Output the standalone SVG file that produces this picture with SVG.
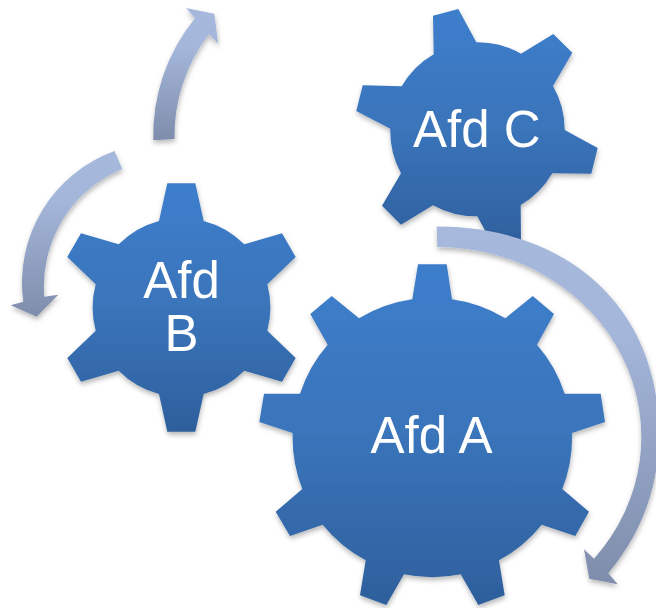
<svg xmlns="http://www.w3.org/2000/svg" width="656" height="608" viewBox="0 0 656 608">
<style>
.gear{fill:url(#gearFill);filter:url(#soft)}
.arrow{fill:url(#arrowFill);filter:url(#soft)}
text{font-family:"Liberation Sans",Arial,sans-serif;font-size:51px;fill:#fff;text-anchor:middle}
</style>
<defs>
<linearGradient id="gearFill" x1="0" y1="0" x2="0" y2="1"><stop offset="0" stop-color="#3d7ecc"/><stop offset="0.5" stop-color="#3a74ba"/><stop offset="1" stop-color="#2e5f9c"/></linearGradient>
<linearGradient id="arrowFill" x1="0" y1="0" x2="0" y2="1"><stop offset="0" stop-color="#a6b8dc"/><stop offset="0.3" stop-color="#a4b6da"/><stop offset="1" stop-color="#7e8dab"/></linearGradient>
<filter id="soft" x="-10%" y="-10%" width="120%" height="125%"><feDropShadow dx="0.5" dy="3" stdDeviation="2.5" flood-color="#000" flood-opacity="0.28"/></filter>
</defs>
<rect width="656" height="608" fill="#fff"/>
<g id="node-afd-a">
<path class="gear" d="M412.3 299.3L418 264.3H446.7L452 299.3A140 140 0 0 1 505.3 318.3L532.7 296L554 314L537 344.7A140 140 0 0 1 564.7 393.7H600.7L605 422L572 433A140 140 0 0 1 562.3 489L589 511.7L575.3 536L541.7 524.7A140 140 0 0 1 499 560.3L504.7 595.3L478.3 605L460.7 574.3A140 140 0 0 1 404 574.3L386.3 605L360 595.3L365.7 560.3A140 140 0 0 1 322.7 524.7L290 536L275.7 511.7L302.3 489A140 140 0 0 1 292.7 433L259.3 422L264 393.7H300A140 140 0 0 1 327.7 344.7L310.3 314L331.7 296L359 318.3A140 140 0 0 1 412.3 299.3Z"/>
<text x="431.5" y="453.3">Afd A</text>
</g>
<g id="node-afd-b">
<path class="gear" d="M159 221L167.3 183.3H195.3L203.7 221A89.5 89.5 0 0 1 244.3 244.3L282 233.3L295.7 257L267.3 284.3A89.5 89.5 0 0 1 267.3 330.7L295.7 358L282 381.7L244.3 370.7A89.5 89.5 0 0 1 203.7 394L195.3 431.7H167.3L159 394A89.5 89.5 0 0 1 118.7 370.7L81 381.7L67.3 358L95.7 330.7A89.5 89.5 0 0 1 95.7 284.3L67.3 257L81 233.3L118.7 244.3A89.5 89.5 0 0 1 159 221Z"/>
<text x="181.5" y="298.3">Afd</text>
<text x="181.5" y="351">B</text>
</g>
<g id="node-afd-c">
<path class="gear" d="M476.3 42.3L458.3 9L433 15.7L433.7 54.3A87.5 87.5 0 0 0 401.7 86.3L362.7 85.3L356.3 111L390.3 128.7A87.5 87.5 0 0 0 401 173.3L382 205.7L401 224.7L433 205.3A87.5 87.5 0 0 0 477.3 216.3L495.7 250L521 243.3L520.7 205A87.5 87.5 0 0 0 552.3 173.3L591.3 173.7L597.7 148L564.7 130A87.5 87.5 0 0 0 553 86L572.3 52.7L553.3 34L521 53.7A87.5 87.5 0 0 0 476.3 42.3Z"/>
<text x="476.8" y="146.7">Afd C</text>
</g>
<g id="connectors">
<path id="arrow-top" class="arrow" d="M153.3 140.3A185 185 0 0 1 195 18.3L186 8L214.3 13.7L218.3 44L209 34.3A166 166 0 0 0 174.5 139Z"/>
<path id="arrow-left" class="arrow" d="M114.5 151A140 140 0 0 0 23.3 301.7L10.7 305.3L36.7 316.7L58.3 294.7L44.3 296.7A127 127 0 0 1 122.3 169Z"/>
<path id="arrow-right" class="arrow" d="M436.7 226.5C570 226.5 659 310 659 433C659 490 640 535 608.3 573.3L617.7 584.3L589.3 578.7L584 549.3L594 558.7A204 190 0 0 0 437.3 247Z"/>
</g>
</svg>
